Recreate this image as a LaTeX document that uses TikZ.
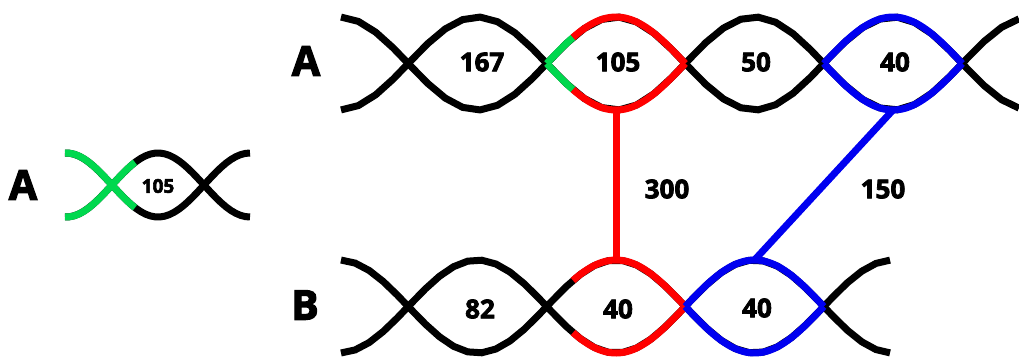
\documentclass[tikz,border=0pt]{standalone}
\usepackage{fontspec}
\setmainfont{Open Sans}[BoldFont={Open Sans Bold},BoldFeatures={FakeBold=3}]
\usepackage{tikz}
\definecolor{strandgreen}{HTML}{00D84E}
\definecolor{strandred}{HTML}{FF0000}
\definecolor{strandblue}{HTML}{0000F0}

% two strands of a twist, #1 phase start, #2 middle, #3 amplitude, #4 spacing, #5 from, #6 to
\newcommand{\twist}[6]{%
  \draw plot[domain=#5:#6,samples=40] (\x,{#2-#3*cos(180/#4*(\x-#1))});
  \draw plot[domain=#5:#6,samples=40] (\x,{#2+#3*cos(180/#4*(\x-#1))});}

\tikzset{
  strand/.style={line width=7pt},
  num/.style={font=\fontsize{26}{26}\selectfont\bfseries},
  smallnum/.style={font=\fontsize{19}{19}\selectfont\bfseries},
  strandname/.style={font=\fontsize{41}{41}\selectfont\bfseries},
}

\begin{document}
\begin{tikzpicture}[x=1pt,y=-1pt]
  \useasboundingbox (0,0) rectangle (1019,356);
  % small strand on the left
  \begin{scope}[strand]
    \twist{66}{185}{32}{92}{65}{250}
  \end{scope}
  \begin{scope}[strand,strandgreen]
    \twist{66}{185}{32}{92}{65}{135}
  \end{scope}
  \node[strandname] (smallA) at (23,185) {A};
  \node[smallnum] (small105) at (158,186) {105};

  % strand A
  \begin{scope}[strand]
    \twist{339}{63.5}{46.5}{138.5}{341}{1019}
  \end{scope}
  \begin{scope}[strand,strandgreen]
    \twist{339}{63.5}{46.5}{138.5}{546.75}{573}
  \end{scope}
  \begin{scope}[strand,strandred]
    \twist{339}{63.5}{46.5}{138.5}{573}{685.25}
  \end{scope}
  \begin{scope}[strand,strandblue]
    \twist{339}{63.5}{46.5}{138.5}{823.75}{962.25}
  \end{scope}

  % strand B
  \begin{scope}[strand]
    \twist{339}{306.5}{46.5}{138.5}{341}{890}
  \end{scope}
  \begin{scope}[strand,strandred]
    \twist{339}{306.5}{46.5}{138.5}{573}{685.25}
  \end{scope}
  \begin{scope}[strand,strandblue]
    \twist{339}{306.5}{46.5}{138.5}{685.25}{823.75}
  \end{scope}

  \node[strandname] (labelA) at (306,61) {A};
  \node[strandname] (labelB) at (305,305) {B};

  \node[num] (a167) at (482,62) {167};
  \node[num] (a105) at (618,62) {105};
  \node[num] (a50) at (756,62) {50};
  \node[num] (a40) at (895,62) {40};
  \node[num] (b82) at (480,309) {82};
  \node[num] (b40red) at (618,309) {40};
  \node[num] (b40blue) at (757,308) {40};

  % links between the bubbles
  \coordinate (a105bot) at (616,110);
  \coordinate (a40bot) at (893,110);
  \coordinate (b40redtop) at (616,260);
  \coordinate (b40bluetop) at (754.5,260);
  \draw[strand,strandred] (a105bot) -- (b40redtop);
  \draw[strand,strandblue] (a40bot) -- (b40bluetop);
  \node[num] (len300) at (667,189) {300};
  \node[num] (len150) at (883,189) {150};
\end{tikzpicture}
\end{document}
